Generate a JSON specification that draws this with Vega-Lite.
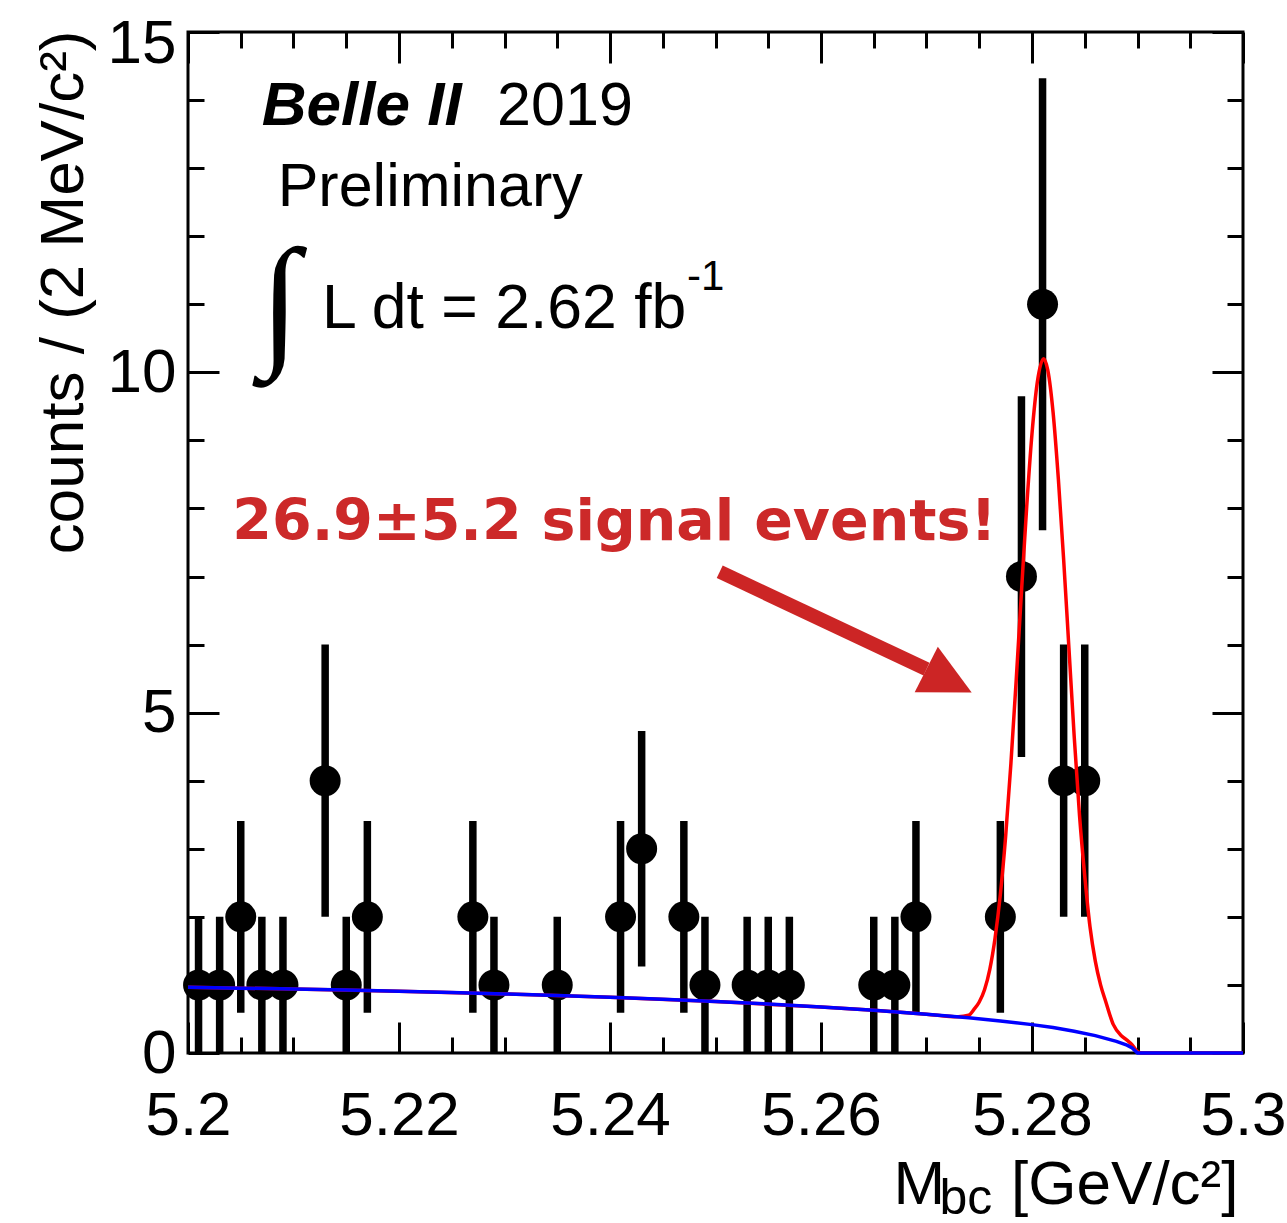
{
  "$schema": "https://vega.github.io/schema/vega-lite/v6.json",
  "width": 1055,
  "height": 1021,
  "autosize": {"type": "none"},
  "padding": {"left": 188, "top": 32, "right": 44, "bottom": 170},
  "background": "white",
  "config": {
    "view": {"stroke": "black", "strokeWidth": 3},
    "font": "Liberation Sans",
    "axis": {
      "domain": false,
      "grid": false,
      "tickColor": "black",
      "tickWidth": 3,
      "labelColor": "black",
      "labelFont": "Liberation Sans",
      "labelFontSize": 62,
      "titleColor": "black",
      "titleFont": "Liberation Sans",
      "titleFontSize": 62,
      "titleFontWeight": "normal"
    }
  },
  "datasets": {
    "bins": [
      {"x": 5.201, "n": 1, "lo": 0, "hi": 2},
      {"x": 5.203, "n": 1, "lo": 0, "hi": 2},
      {"x": 5.205, "n": 2, "lo": 0.59, "hi": 3.41},
      {"x": 5.207, "n": 1, "lo": 0, "hi": 2},
      {"x": 5.209, "n": 1, "lo": 0, "hi": 2},
      {"x": 5.213, "n": 4, "lo": 2, "hi": 6},
      {"x": 5.215, "n": 1, "lo": 0, "hi": 2},
      {"x": 5.217, "n": 2, "lo": 0.59, "hi": 3.41},
      {"x": 5.227, "n": 2, "lo": 0.59, "hi": 3.41},
      {"x": 5.229, "n": 1, "lo": 0, "hi": 2},
      {"x": 5.235, "n": 1, "lo": 0, "hi": 2},
      {"x": 5.241, "n": 2, "lo": 0.59, "hi": 3.41},
      {"x": 5.243, "n": 3, "lo": 1.27, "hi": 4.73},
      {"x": 5.247, "n": 2, "lo": 0.59, "hi": 3.41},
      {"x": 5.249, "n": 1, "lo": 0, "hi": 2},
      {"x": 5.253, "n": 1, "lo": 0, "hi": 2},
      {"x": 5.255, "n": 1, "lo": 0, "hi": 2},
      {"x": 5.257, "n": 1, "lo": 0, "hi": 2},
      {"x": 5.265, "n": 1, "lo": 0, "hi": 2},
      {"x": 5.267, "n": 1, "lo": 0, "hi": 2},
      {"x": 5.269, "n": 2, "lo": 0.59, "hi": 3.41},
      {"x": 5.277, "n": 2, "lo": 0.59, "hi": 3.41},
      {"x": 5.279, "n": 7, "lo": 4.35, "hi": 9.65},
      {"x": 5.281, "n": 11, "lo": 7.68, "hi": 14.32},
      {"x": 5.283, "n": 4, "lo": 2, "hi": 6},
      {"x": 5.285, "n": 4, "lo": 2, "hi": 6}
    ],
    "total": [
      {"x": 5.2, "y": 0.965},
      {"x": 5.21, "y": 0.94},
      {"x": 5.22, "y": 0.908},
      {"x": 5.23, "y": 0.868},
      {"x": 5.24, "y": 0.818},
      {"x": 5.25, "y": 0.756},
      {"x": 5.26, "y": 0.676},
      {"x": 5.265, "y": 0.627},
      {"x": 5.27, "y": 0.57},
      {"x": 5.273, "y": 0.532},
      {"x": 5.274, "y": 0.555},
      {"x": 5.2745, "y": 0.64},
      {"x": 5.275, "y": 0.75},
      {"x": 5.2755, "y": 0.93},
      {"x": 5.276, "y": 1.23},
      {"x": 5.2765, "y": 1.69},
      {"x": 5.277, "y": 2.33},
      {"x": 5.2775, "y": 3.18},
      {"x": 5.278, "y": 4.25},
      {"x": 5.2785, "y": 5.47},
      {"x": 5.279, "y": 6.77},
      {"x": 5.2795, "y": 8.03},
      {"x": 5.28, "y": 9.1},
      {"x": 5.2805, "y": 9.85},
      {"x": 5.2811, "y": 10.2},
      {"x": 5.2815, "y": 10.03},
      {"x": 5.282, "y": 9.41},
      {"x": 5.2825, "y": 8.43},
      {"x": 5.283, "y": 7.25},
      {"x": 5.2835, "y": 5.95},
      {"x": 5.284, "y": 4.65},
      {"x": 5.2845, "y": 3.5},
      {"x": 5.285, "y": 2.6},
      {"x": 5.2855, "y": 1.85},
      {"x": 5.286, "y": 1.35},
      {"x": 5.2865, "y": 1.0},
      {"x": 5.287, "y": 0.75},
      {"x": 5.2877, "y": 0.42},
      {"x": 5.2885, "y": 0.25},
      {"x": 5.289, "y": 0.19},
      {"x": 5.2895, "y": 0.12},
      {"x": 5.29, "y": 0.02},
      {"x": 5.2905, "y": 0},
      {"x": 5.3, "y": 0}
    ],
    "background": [
      {"x": 5.2, "y": 0.965},
      {"x": 5.205, "y": 0.953},
      {"x": 5.21, "y": 0.94},
      {"x": 5.215, "y": 0.925},
      {"x": 5.22, "y": 0.908},
      {"x": 5.225, "y": 0.889},
      {"x": 5.23, "y": 0.868},
      {"x": 5.235, "y": 0.844},
      {"x": 5.24, "y": 0.818},
      {"x": 5.245, "y": 0.789},
      {"x": 5.25, "y": 0.756},
      {"x": 5.255, "y": 0.719},
      {"x": 5.26, "y": 0.676},
      {"x": 5.265, "y": 0.627},
      {"x": 5.27, "y": 0.57},
      {"x": 5.274, "y": 0.517},
      {"x": 5.277, "y": 0.47},
      {"x": 5.28, "y": 0.417},
      {"x": 5.282, "y": 0.375},
      {"x": 5.284, "y": 0.32},
      {"x": 5.286, "y": 0.255},
      {"x": 5.288, "y": 0.17},
      {"x": 5.289, "y": 0.115},
      {"x": 5.2895, "y": 0.075},
      {"x": 5.29, "y": 0},
      {"x": 5.3, "y": 0}
    ]
  },
  "layer": [
    {
      "data": {"name": "bins"},
      "mark": {"type": "rule", "color": "black", "strokeWidth": 7.5},
      "encoding": {
        "x": {
          "field": "x", "type": "quantitative",
          "scale": {"domain": [5.2, 5.3], "nice": false, "zero": false},
          "axis": {
            "orient": "bottom",
            "values": [5.2, 5.22, 5.24, 5.26, 5.28, 5.3],
            "format": ".3~g",
            "tickSize": -31,
            "labelPadding": 63,
            "labelFlush": false,
            "labelOverlap": false,
            "title": "[GeV/c²]",
            "titleX": 1050,
            "titleY": 150,
            "titleAlign": "right",
            "titleBaseline": "alphabetic"
          }
        },
        "y": {
          "field": "lo", "type": "quantitative",
          "scale": {"domain": [0, 15], "nice": false},
          "axis": {
            "orient": "left",
            "values": [0, 5, 10, 15],
            "tickSize": -31,
            "labelPadding": 43,
            "labelOffset": {"condition": {"test": "datum.value === 15", "value": 11}, "value": 0},
            "labelFlush": false,
            "labelOverlap": false,
            "title": "counts / (2 MeV/c²)",
            "titleX": -106,
            "titleY": -2,
            "titleAngle": 270,
            "titleAlign": "right",
            "titleBaseline": "alphabetic"
          }
        },
        "y2": {"field": "hi"}
      }
    },
    {
      "data": {"name": "bins"},
      "mark": {"type": "circle", "size": 960, "color": "black", "opacity": 1},
      "encoding": {
        "x": {
          "field": "x", "type": "quantitative",
          "scale": {"domain": [5.2, 5.3], "nice": false, "zero": false},
          "axis": {
            "orient": "bottom",
            "values": [5.205, 5.21, 5.215, 5.225, 5.23, 5.235, 5.245, 5.25, 5.255, 5.265, 5.27, 5.275, 5.285, 5.29, 5.295],
            "tickSize": -16,
            "labels": false,
            "title": "M",
            "titleX": 705,
            "titleY": 150,
            "titleAlign": "left",
            "titleBaseline": "alphabetic"
          }
        },
        "y": {
          "field": "n", "type": "quantitative",
          "scale": {"domain": [0, 15], "nice": false},
          "axis": {
            "orient": "left",
            "values": [1, 2, 3, 4, 6, 7, 8, 9, 11, 12, 13, 14],
            "tickSize": -16,
            "labels": false,
            "title": null
          }
        }
      }
    },
    {
      "data": {"name": "total"},
      "mark": {"type": "line", "color": "#ff0000", "strokeWidth": 3.5, "interpolate": "monotone"},
      "encoding": {
        "x": {
          "field": "x", "type": "quantitative",
          "scale": {"domain": [5.2, 5.3], "nice": false, "zero": false},
          "axis": {
            "orient": "top",
            "values": [5.2, 5.22, 5.24, 5.26, 5.28, 5.3],
            "tickSize": -31,
            "labels": false,
            "title": "bc",
            "titleFontSize": 50,
            "titleX": 751,
            "titleY": 1181,
            "titleAlign": "left",
            "titleBaseline": "alphabetic"
          }
        },
        "y": {
          "field": "y", "type": "quantitative",
          "scale": {"domain": [0, 15], "nice": false},
          "axis": {
            "orient": "right",
            "values": [0, 5, 10, 15],
            "tickSize": -31,
            "labels": false,
            "title": null
          }
        }
      }
    },
    {
      "data": {"name": "background"},
      "mark": {"type": "line", "color": "#0000ff", "strokeWidth": 3.5},
      "encoding": {
        "x": {
          "field": "x", "type": "quantitative",
          "scale": {"domain": [5.2, 5.3], "nice": false, "zero": false},
          "axis": {
            "orient": "top",
            "values": [5.205, 5.21, 5.215, 5.225, 5.23, 5.235, 5.245, 5.25, 5.255, 5.265, 5.27, 5.275, 5.285, 5.29, 5.295],
            "tickSize": -16,
            "labels": false,
            "title": null
          }
        },
        "y": {
          "field": "y", "type": "quantitative",
          "scale": {"domain": [0, 15], "nice": false},
          "axis": {
            "orient": "right",
            "values": [1, 2, 3, 4, 6, 7, 8, 9, 11, 12, 13, 14],
            "tickSize": -16,
            "labels": false,
            "title": null
          }
        }
      }
    },
    {
      "data": {"values": [{}]},
      "mark": {"type": "rule", "color": "#cc2525", "strokeWidth": 14, "strokeCap": "butt"},
      "encoding": {
        "x": {"datum": 5.2504, "type": "quantitative", "axis": null},
        "y": {"datum": 7.07, "type": "quantitative", "axis": null},
        "x2": {"datum": 5.27},
        "y2": {"datum": 5.64}
      }
    },
    {
      "data": {"values": [{}]},
      "mark": {"type": "point", "shape": "M1,0L-1,-1L-1,1Z", "size": 2600, "angle": 27, "filled": true, "color": "#cc2525", "opacity": 1, "strokeWidth": 0},
      "encoding": {
        "x": {"datum": 5.27213, "type": "quantitative", "axis": null},
        "y": {"datum": 5.465, "type": "quantitative", "axis": null}
      }
    },
    {
      "data": {"values": [{}]},
      "mark": {"type": "text", "text": "Belle II", "align": "left", "baseline": "alphabetic", "font": "Liberation Sans", "fontSize": 62, "fontWeight": "bold", "fontStyle": "italic", "color": "black"},
      "encoding": {
        "x": {"datum": 5.207, "type": "quantitative", "axis": null},
        "y": {"datum": 13.633, "type": "quantitative", "axis": null}
      }
    },
    {
      "data": {"values": [{}]},
      "mark": {"type": "text", "text": "2019", "align": "left", "baseline": "alphabetic", "font": "Liberation Sans", "fontSize": 61, "color": "black"},
      "encoding": {
        "x": {"datum": 5.2293, "type": "quantitative", "axis": null},
        "y": {"datum": 13.633, "type": "quantitative", "axis": null}
      }
    },
    {
      "data": {"values": [{}]},
      "mark": {"type": "text", "text": "Preliminary", "align": "left", "baseline": "alphabetic", "font": "Liberation Sans", "fontSize": 61, "color": "black"},
      "encoding": {
        "x": {"datum": 5.2085, "type": "quantitative", "axis": null},
        "y": {"datum": 12.44, "type": "quantitative", "axis": null}
      }
    },
    {
      "data": {"values": [{}]},
      "mark": {"type": "text", "text": "∫", "align": "center", "baseline": "middle", "font": "Liberation Serif", "fontSize": 145, "fontWeight": "bold", "fontStyle": "italic", "color": "black"},
      "encoding": {
        "x": {"datum": 5.2086, "type": "quantitative", "axis": null},
        "y": {"datum": 10.99, "type": "quantitative", "axis": null}
      }
    },
    {
      "data": {"values": [{}]},
      "mark": {"type": "text", "text": "L dt = 2.62 fb", "align": "left", "baseline": "alphabetic", "font": "Liberation Sans", "fontSize": 62.5, "color": "black"},
      "encoding": {
        "x": {"datum": 5.2127, "type": "quantitative", "axis": null},
        "y": {"datum": 10.65, "type": "quantitative", "axis": null}
      }
    },
    {
      "data": {"values": [{}]},
      "mark": {"type": "text", "text": "-1", "align": "left", "baseline": "alphabetic", "font": "Liberation Sans", "fontSize": 42, "color": "black"},
      "encoding": {
        "x": {"datum": 5.2473, "type": "quantitative", "axis": null},
        "y": {"datum": 11.21, "type": "quantitative", "axis": null}
      }
    },
    {
      "data": {"values": [{}]},
      "mark": {"type": "text", "text": "26.9±5.2 signal events!", "align": "left", "baseline": "alphabetic", "font": "DejaVu Sans", "fontSize": 57, "fontWeight": "bold", "color": "#cc2929"},
      "encoding": {
        "x": {"datum": 5.2042, "type": "quantitative", "axis": null},
        "y": {"datum": 7.54, "type": "quantitative", "axis": null}
      }
    }
  ],
  "resolve": {"axis": {"x": "independent", "y": "independent"}}
}
